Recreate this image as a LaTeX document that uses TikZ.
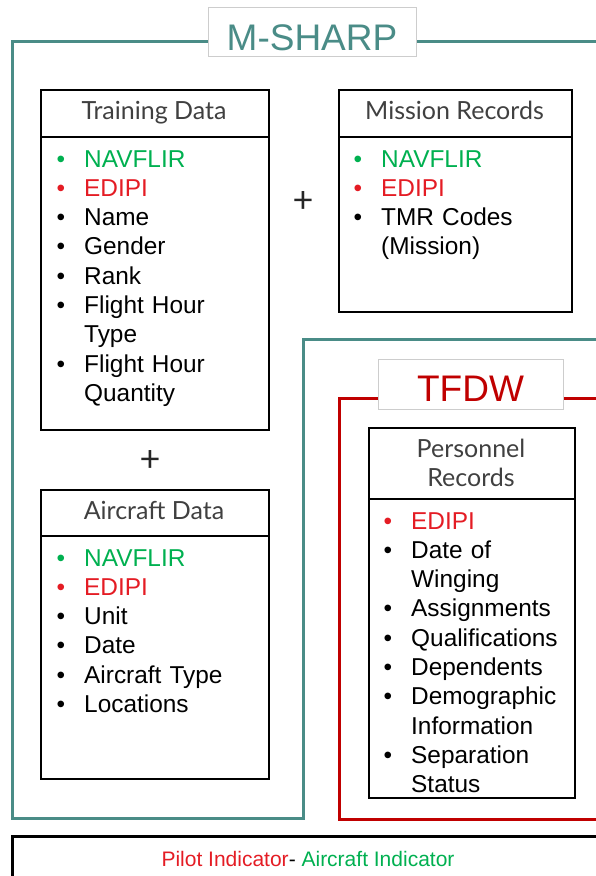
\documentclass[tikz,border=0pt]{standalone}
\usepackage{fontspec}
\setmainfont{Liberation Sans}
\newfontfamily\headfont{Lato}
\definecolor{mteal}{RGB}{74,140,135}
\definecolor{darkred}{RGB}{192,0,0}
\definecolor{pilotred}{RGB}{228,28,36}
\definecolor{navgreen}{RGB}{0,176,80}
\definecolor{headgray}{RGB}{64,64,64}
\definecolor{labelgray}{RGB}{205,205,205}
\newcommand{\itm}[2][black]{\leavevmode\llap{\textcolor{#1}{\textbullet}\hspace{19pt}}\textcolor{#1}{#2}\par}

\begin{document}
\begin{tikzpicture}[x=1pt, y=-1pt,
    box/.style={draw, line width=1.5pt, anchor=north west, inner sep=0},
    headtext/.style={font=\headfont\fontsize{25}{29.5}\selectfont, text=headgray, anchor=base, inner sep=0},
    listtext/.style={font=\fontsize{24.4}{29.3}\selectfont, anchor=base west, inner sep=0, text width=190pt, align=left},
    labelbox/.style={draw=labelgray, fill=white, line width=0.8pt, inner sep=0, font=\fontsize{37}{37}\selectfont},
    plus/.style={inner sep=0, text=black!85, font=\headfont\fontsize{36}{36}\selectfont},
    tealframe/.style={draw=mteal, line width=3pt},
    redframe/.style={draw=darkred, line width=3pt}]
    \useasboundingbox (0,0) rectangle (595,876);

    % Frames
    \draw[tealframe] (598,41) -- (12,41) -- (12,818) -- (303,818) -- (303,339) -- (598,339);
    \draw[redframe] (598,398) -- (339,398) -- (339,819) -- (598,819);
    \draw[line width=3pt] (598,836) -- (12,836) -- (12,880);

    % Labels
    \node[labelbox, text=mteal, minimum width=208pt, text height=43pt, text depth=6pt] (msharp) at (312,7) [anchor=north] {M-SHARP};
    \node[labelbox, text=darkred, minimum width=185pt, text height=42.5pt, text depth=7.5pt] (tfdw) at (470.5,359) [anchor=north] {TFDW};

    % Training Data
    \node[box, minimum width=228pt, minimum height=340pt] (training) at (40,89) {};
    \draw[line width=1.5pt] (training.west |- 0,137) -- (training.east |- 0,137);
    \node[headtext] (traininghead) at (154,119) {Training Data};
    \node[listtext] (traininglist) at (84,167) {\itm[navgreen]{NAVFLIR}\itm[pilotred]{EDIPI}\itm{Name}\itm{Gender}\itm{Rank}\itm{Flight Hour\\Type}\itm{Flight Hour\\Quantity}};

    % Mission Records
    \node[box, minimum width=233pt, minimum height=222pt] (mission) at (338,89) {};
    \draw[line width=1.5pt] (mission.west |- 0,137) -- (mission.east |- 0,137);
    \node[headtext] (missionhead) at (454.5,119) {Mission Records};
    \node[listtext] (missionlist) at (381,167) {\itm[navgreen]{NAVFLIR}\itm[pilotred]{EDIPI}\itm{TMR Codes\\(Mission)}};

    % Aircraft Data
    \node[box, minimum width=228pt, minimum height=289pt] (aircraft) at (40,489) {};
    \draw[line width=1.5pt] (aircraft.west |- 0,536) -- (aircraft.east |- 0,536);
    \node[headtext] (aircrafthead) at (154,519) {Aircraft Data};
    \node[listtext] (aircraftlist) at (84,566) {\itm[navgreen]{NAVFLIR}\itm[pilotred]{EDIPI}\itm{Unit}\itm{Date}\itm{Aircraft Type}\itm{Locations}};

    % Personnel Records
    \node[box, minimum width=206pt, minimum height=370pt] (personnel) at (368,427) {};
    \draw[line width=1.5pt] (personnel.west |- 0,499) -- (personnel.east |- 0,499);
    \node[headtext, text width=190pt, align=center] (personnelhead) at (471,457) {Personnel\\Records};
    \node[listtext] (personnellist) at (411,529) {\itm[pilotred]{EDIPI}\itm{Date of\\Winging}\itm{Assignments}\itm{Qualifications}\itm{Dependents}\itm{Demographic\\Information}\itm{Separation\\Status}};

    % Plus signs
    \node[plus] (plusA) at (303,202) {+};
    \node[plus] (plusB) at (150,461) {+};

    % Legend
    \node[font=\fontsize{21}{21}\selectfont, anchor=base, inner sep=0] (legend) at (308,866) {\textcolor{pilotred}{Pilot Indicator}- \textcolor{navgreen}{Aircraft Indicator}};
\end{tikzpicture}
\end{document}
